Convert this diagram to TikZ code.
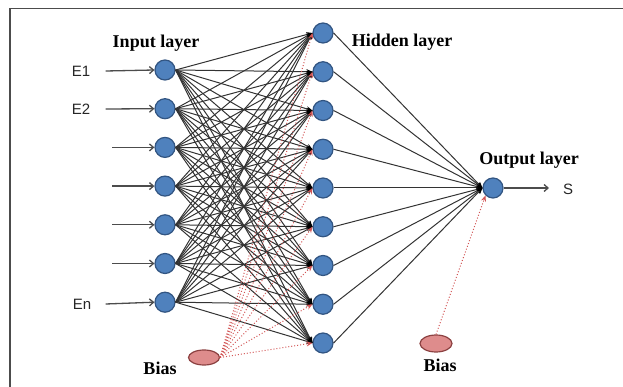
\documentclass[tikz,border=0pt]{standalone}
\usepackage{fontspec}
\setmainfont{Liberation Serif}
\newfontfamily\labelfont{Liberation Sans}
\usetikzlibrary{arrows.meta,shapes.geometric}

\definecolor{neuronblue}{RGB}{79,129,189}
\definecolor{neuronedge}{RGB}{50,85,130}
\definecolor{biasfill}{RGB}{222,140,140}
\definecolor{biasedge}{RGB}{140,65,65}
\definecolor{biasline}{RGB}{210,85,85}

\tikzset{
  neuron/.style={circle,fill=neuronblue,draw=neuronedge,line width=1.2pt,minimum size=20pt,inner sep=0pt},
  biasnode/.style={ellipse,fill=biasfill,draw=biasedge,line width=1.2pt,minimum width=31pt,minimum height=15pt,inner sep=0pt},
  layertitle/.style={font=\fontsize{18}{20}\selectfont\bfseries},
  inlabel/.style={font=\labelfont\fontsize{15}{17}\selectfont,text=black!85},
  weight/.style={draw=black!80,line width=1pt,-{Stealth[length=6pt,width=5pt,black]}},
  biasweight/.style={draw=biasline,dotted,line width=1pt,-{Stealth[length=6pt,width=5pt,biasline]}},
  feed/.style={draw=black!70,line width=1.3pt,-{Straight Barb[length=4pt,width=7pt]}}
}

\begin{document}
\begin{tikzpicture}[x=1pt,y=-1pt]
      \useasboundingbox (0,0) rectangle (623,387);
      % frame (cut on the right and bottom)
      \draw[black!70,line width=1.5pt] (623,8.5) -- (10,8.5) -- (10,387);

      % input layer
      \foreach \k in {1,...,7}
        \node[neuron] (i\k) at (165,{70+38.7*(\k-1)}) {};
      % hidden layer
      \foreach \k in {1,...,9}
        \node[neuron] (h\k) at (323,{33+38.75*(\k-1)}) {};
      % output layer
      \node[neuron] (o) at (493,188) {};

      \node[biasnode] (b1) at (204,357.5) {};
      \node[biasnode,minimum width=32pt,minimum height=17pt] (b2) at (436,343.5) {};

      \node[layertitle] (tin) at (156,43) {Input layer};
      \node[layertitle] (thid) at (402,42) {Hidden layer};
      \node[layertitle] (tout) at (529,160) {Output layer};
      \node[layertitle] (tb1) at (160,368) {Bias};
      \node[layertitle] (tb2) at (440,365) {Bias};

      % inputs
      \node[inlabel] (e1) at (81,71) {E1};
      \node[inlabel] (e2) at (81,109) {E2};
      \node[inlabel] (en) at (82,304) {En};
      \draw[feed] (e1.east)+(12,0) -- (i1.west);
      \draw[feed] (e2.east)+(12,0) -- (i2.west);
      \draw[feed] (en.east)+(11,0) -- (i7.west);
      \foreach \k in {3,4,5,6} {
        \coordinate (s\k) at (112,{70+38.7*(\k-1)});
        \draw[feed] (s\k) -- (i\k.west);
      }

      % weights
      \foreach \a in {1,...,7}
        \foreach \b in {1,...,9}
          \draw[weight] (i\a.east) -- (h\b.west);
      \foreach \b in {1,...,9}
        \draw[weight] (h\b.east) -- (o.west);

      % bias connections
      \foreach \b in {1,...,9}
        \draw[biasweight] (b1.east) -- (h\b.west);
      \draw[biasweight] (b2.north) -- (o.south west);

      % output
      \coordinate (oend) at (549,188);
      \draw[feed] (o.east) -- (oend);
      \node[inlabel] (s) at (568,189) {S};
\end{tikzpicture}
\end{document}
